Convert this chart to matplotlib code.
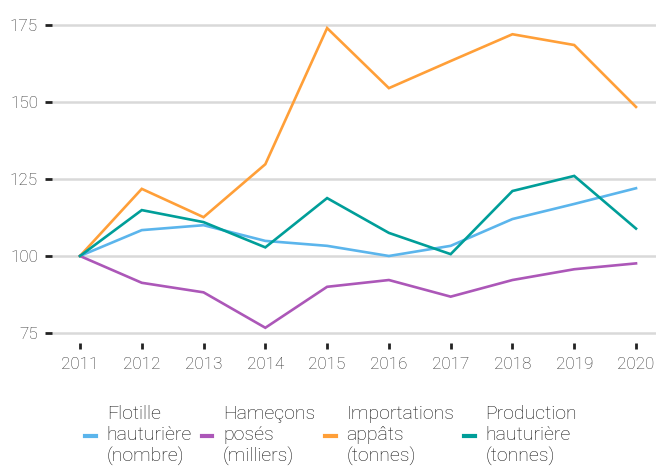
import matplotlib
matplotlib.use('Agg')
import matplotlib.pyplot as plt

plt.rcParams['font.family'] = ['Roboto', 'DejaVu Sans']

years = [2011, 2012, 2013, 2014, 2015, 2016, 2017, 2018, 2019, 2020]
flotille = [100, 108.4, 110.0, 104.9, 103.3, 100.0, 103.3, 112.0, 116.9, 122.0]
hamecons = [100, 91.3, 88.2, 76.7, 90.0, 92.2, 86.8, 92.2, 95.7, 97.6]
importations = [100, 121.8, 112.6, 129.8, 174.0, 154.5, 163.3, 172.0, 168.5, 148.4]
production = [100, 114.9, 111.0, 102.8, 118.8, 107.5, 100.6, 121.1, 126.0, 108.9]

labels = ['Flotille\nhauturière\n(nombre)', 'Hameçons\nposés\n(milliers)',
          'Importations\nappâts\n(tonnes)', 'Production\nhauturière\n(tonnes)']
colors = ['#5BB5EC', '#AC57B8', '#FF9F38', '#009E99']
yticks = [75, 100, 125, 150, 175]

W, H = 656, 467
fig = plt.figure(figsize=(W/100, H/100), dpi=100)
ax = fig.add_axes([52/W, 1-343/H, 1-52/W, 333/H])

for s, lab, c in zip([flotille, hamecons, importations, production], labels, colors):
    ax.plot(years, s, color=c, lw=1.9, label=lab, solid_joinstyle='miter')

ax.set_xlim(2011 - 28/61.8, 2020 + 20/61.8)
ax.set_ylim(75 - 10/3.08, 175 + 15/3.08)
ax.set_yticks(yticks)
ax.set_xticks(years)
ax.yaxis.grid(True, color='#d9d9d9', lw=1.8)
ax.set_axisbelow(True)
for sp in ax.spines.values():
    sp.set_visible(False)
ax.tick_params(axis='y', length=5, width=2, color='#222222', pad=5,
               labelsize=12.3, labelcolor='#333333')
ax.tick_params(axis='x', length=4, width=2, color='#222222', pad=6,
               labelsize=12.3, labelcolor='#333333')
for t in ax.get_xticklabels() + ax.get_yticklabels():
    t.set_fontweight('light')

leg = fig.legend(loc='lower center', bbox_to_anchor=(0.505, -0.035), ncol=4,
                 frameon=False, fontsize=14, handlelength=0.55,
                 handletextpad=0.55, columnspacing=0.5, labelspacing=0.2)
for t in leg.get_texts():
    t.set_color('#111111')
    t.set_fontweight('light')
for h in leg.get_lines():
    h.set_linewidth(3)

fig.savefig('out.png', dpi=100)
